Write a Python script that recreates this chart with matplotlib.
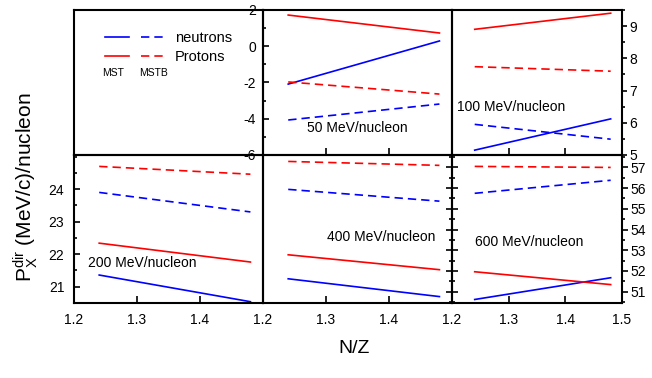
import matplotlib
matplotlib.use('Agg')
import matplotlib.pyplot as plt
from matplotlib.lines import Line2D
from matplotlib.legend_handler import HandlerTuple
from matplotlib.ticker import MultipleLocator

plt.rcParams['font.family'] = ['Liberation Sans', 'DejaVu Sans']
plt.rcParams['axes.unicode_minus'] = False

# N/Z of the two systems
nz = [1.24, 1.48]

# P_x^dir (MeV/c)/nucleon : neutrons / protons, MST (solid) and MSTB (dashed)
n50_mst = [-2.09, 0.29]
n50_mstb = [-4.07, -3.19]
p50_mst = [1.72, 0.73]
p50_mstb = [-1.97, -2.64]

n100_mst = [5.15, 6.12]
n100_mstb = [5.95, 5.49]
p100_mst = [8.90, 9.40]
p100_mstb = [7.74, 7.60]

n200_mst = [21.36, 20.54]
n200_mstb = [23.90, 23.30]
p200_mst = [22.34, 21.76]
p200_mstb = [24.70, 24.46]

n400_mst = [51.62, 50.76]
n400_mstb = [55.94, 55.37]
p400_mst = [52.78, 52.06]
p400_mstb = [57.29, 57.10]

n600_mst = [50.62, 51.67]
n600_mstb = [55.75, 56.38]
p600_mst = [51.96, 51.34]
p600_mstb = [57.05, 57.00]

dash = (0, (5, 3))
lw = 1.2
tfs = 10


def draw(ax, n1, n2, p1, p2):
    ax.plot(nz, n1, color='blue', lw=lw)
    ax.plot(nz, n2, color='blue', lw=lw, ls=dash)
    ax.plot(nz, p1, color='red', lw=lw)
    ax.plot(nz, p2, color='red', lw=lw, ls=dash)


def frame(ax):
    ax.set_facecolor('none')
    for s in ax.spines.values():
        s.set_linewidth(1.5)
    ax.set_xlim(1.2, 1.5)


fig = plt.figure(figsize=(6.52, 3.78), dpi=100)
W, Wr = 0.2899, 0.2607
ax_leg = fig.add_axes([0.1135, 0.590, W, 0.3836])
ax50 = fig.add_axes([0.4034, 0.590, W, 0.3836])
ax100 = fig.add_axes([0.6933, 0.590, Wr, 0.3836])
ax200 = fig.add_axes([0.1135, 0.1984, W, 0.3915])
ax400 = fig.add_axes([0.4034, 0.1984, W, 0.3915])
ax600 = fig.add_axes([0.6933, 0.1984, Wr, 0.3915])

for ax in [ax_leg, ax50, ax100, ax200, ax400, ax600]:
    frame(ax)

# legend panel
ax_leg.set_xticks([])
ax_leg.set_yticks([])
h = [(Line2D([], [], color='blue', lw=lw), Line2D([], [], color='blue', lw=lw, ls=dash)),
     (Line2D([], [], color='red', lw=lw), Line2D([], [], color='red', lw=lw, ls=dash))]
ax_leg.legend(h, ['neutrons', 'Protons'], handler_map={tuple: HandlerTuple(ndivide=None, pad=0.8)},
              loc='upper left', bbox_to_anchor=(0.125, 0.905), frameon=False, fontsize=10.5,
              handlelength=4.1, handletextpad=0.7, labelspacing=0.35, borderpad=0)
ax_leg.text(0.148, 0.566, 'MST', transform=ax_leg.transAxes, fontsize=7.5, va='center')
ax_leg.text(0.344, 0.566, 'MSTB', transform=ax_leg.transAxes, fontsize=7.5, va='center')

# 50 MeV
draw(ax50, n50_mst, n50_mstb, p50_mst, p50_mstb)
ax50.set_ylim(-6, 2)
ax50.set_yticks([-6, -4, -2, 0, 2])
ax50.yaxis.set_minor_locator(MultipleLocator(1))
ax50.set_xticks([1.2, 1.3, 1.4, 1.5])
ax50.tick_params(axis='x', direction='in', length=5, width=1.2, labelbottom=False)
ax50.tick_params(axis='y', which='major', direction='in', length=4.5, width=1.2, labelsize=tfs, pad=5)
ax50.tick_params(axis='y', which='minor', direction='in', length=2.5, width=1.2)
ax50.text(0.233, 0.186, '50 MeV/nucleon', transform=ax50.transAxes, fontsize=10, va='center')

# 100 MeV
draw(ax100, n100_mst, n100_mstb, p100_mst, p100_mstb)
ax100.set_ylim(5, 9.5)
ax100.set_yticks([5, 6, 7, 8, 9])
ax100.yaxis.set_minor_locator(MultipleLocator(0.5))
ax100.yaxis.tick_right()
ax100.set_xticks([1.2, 1.3, 1.4, 1.5])
ax100.tick_params(axis='x', direction='in', length=5, width=1.2, labelbottom=False)
ax100.tick_params(axis='y', which='major', direction='out', length=3.5, width=1.2, labelsize=tfs, pad=2)
ax100.tick_params(axis='y', which='minor', direction='out', length=2, width=1.2)
ax100.text(0.03, 0.328, '100 MeV/nucleon', transform=ax100.transAxes, fontsize=10, va='center')

# 200 MeV
draw(ax200, n200_mst, n200_mstb, p200_mst, p200_mstb)
ax200.set_ylim(20.5, 25.05)
ax200.set_yticks([21, 22, 23, 24])
ax200.yaxis.set_minor_locator(MultipleLocator(0.5))
ax200.set_xticks([1.2, 1.3, 1.4])
ax200.tick_params(axis='x', direction='in', length=5, width=1.2, labelsize=tfs, pad=7)
ax200.tick_params(axis='y', which='major', direction='in', length=4.5, width=1.2, labelsize=tfs, pad=7)
ax200.tick_params(axis='y', which='minor', direction='in', length=2.5, width=1.2)
ax200.text(0.074, 0.27, '200 MeV/nucleon', transform=ax200.transAxes, fontsize=10, va='center')

# 400 MeV (same scale as 600 MeV)
draw(ax400, n400_mst, n400_mstb, p400_mst, p400_mstb)
ax400.set_ylim(50.45, 57.6)
ax400.set_yticks([51, 52, 53, 54, 55, 56, 57])
ax400.yaxis.set_minor_locator(MultipleLocator(0.5))
ax400.yaxis.tick_right()
ax400.set_xticks([1.2, 1.3, 1.4])
ax400.tick_params(axis='x', direction='in', length=5, width=1.2, labelsize=tfs, pad=7)
ax400.tick_params(axis='y', which='major', direction='out', length=4, width=1.2, labelright=False)
ax400.tick_params(axis='y', which='minor', direction='out', length=2.5, width=1.2)
ax400.text(0.339, 0.446, '400 MeV/nucleon', transform=ax400.transAxes, fontsize=10, va='center')

# 600 MeV
draw(ax600, n600_mst, n600_mstb, p600_mst, p600_mstb)
ax600.set_ylim(50.45, 57.6)
ax600.set_yticks([51, 52, 53, 54, 55, 56, 57])
ax600.yaxis.set_minor_locator(MultipleLocator(0.5))
ax600.yaxis.set_ticks_position('both')
ax600.set_xticks([1.2, 1.3, 1.4, 1.5])
ax600.tick_params(axis='x', direction='in', length=5, width=1.2, labelsize=tfs, pad=7)
ax600.tick_params(axis='y', which='major', direction='out', length=4, width=1.2, labelsize=tfs, pad=2,
                  labelleft=False, labelright=True)
ax600.tick_params(axis='y', which='minor', direction='out', length=2.5, width=1.2)
ax600.text(0.135, 0.412, '600 MeV/nucleon', transform=ax600.transAxes, fontsize=10, va='center')

fig.text(0.04, 0.505, r'$\mathregular{P_X^{dir}}$ (MeV/c)/nucleon', rotation=90,
         ha='center', va='center', fontsize=15)
fig.text(0.543, 0.079, 'N/Z', ha='center', va='center', fontsize=14)

fig.savefig('out.png', dpi=100)
